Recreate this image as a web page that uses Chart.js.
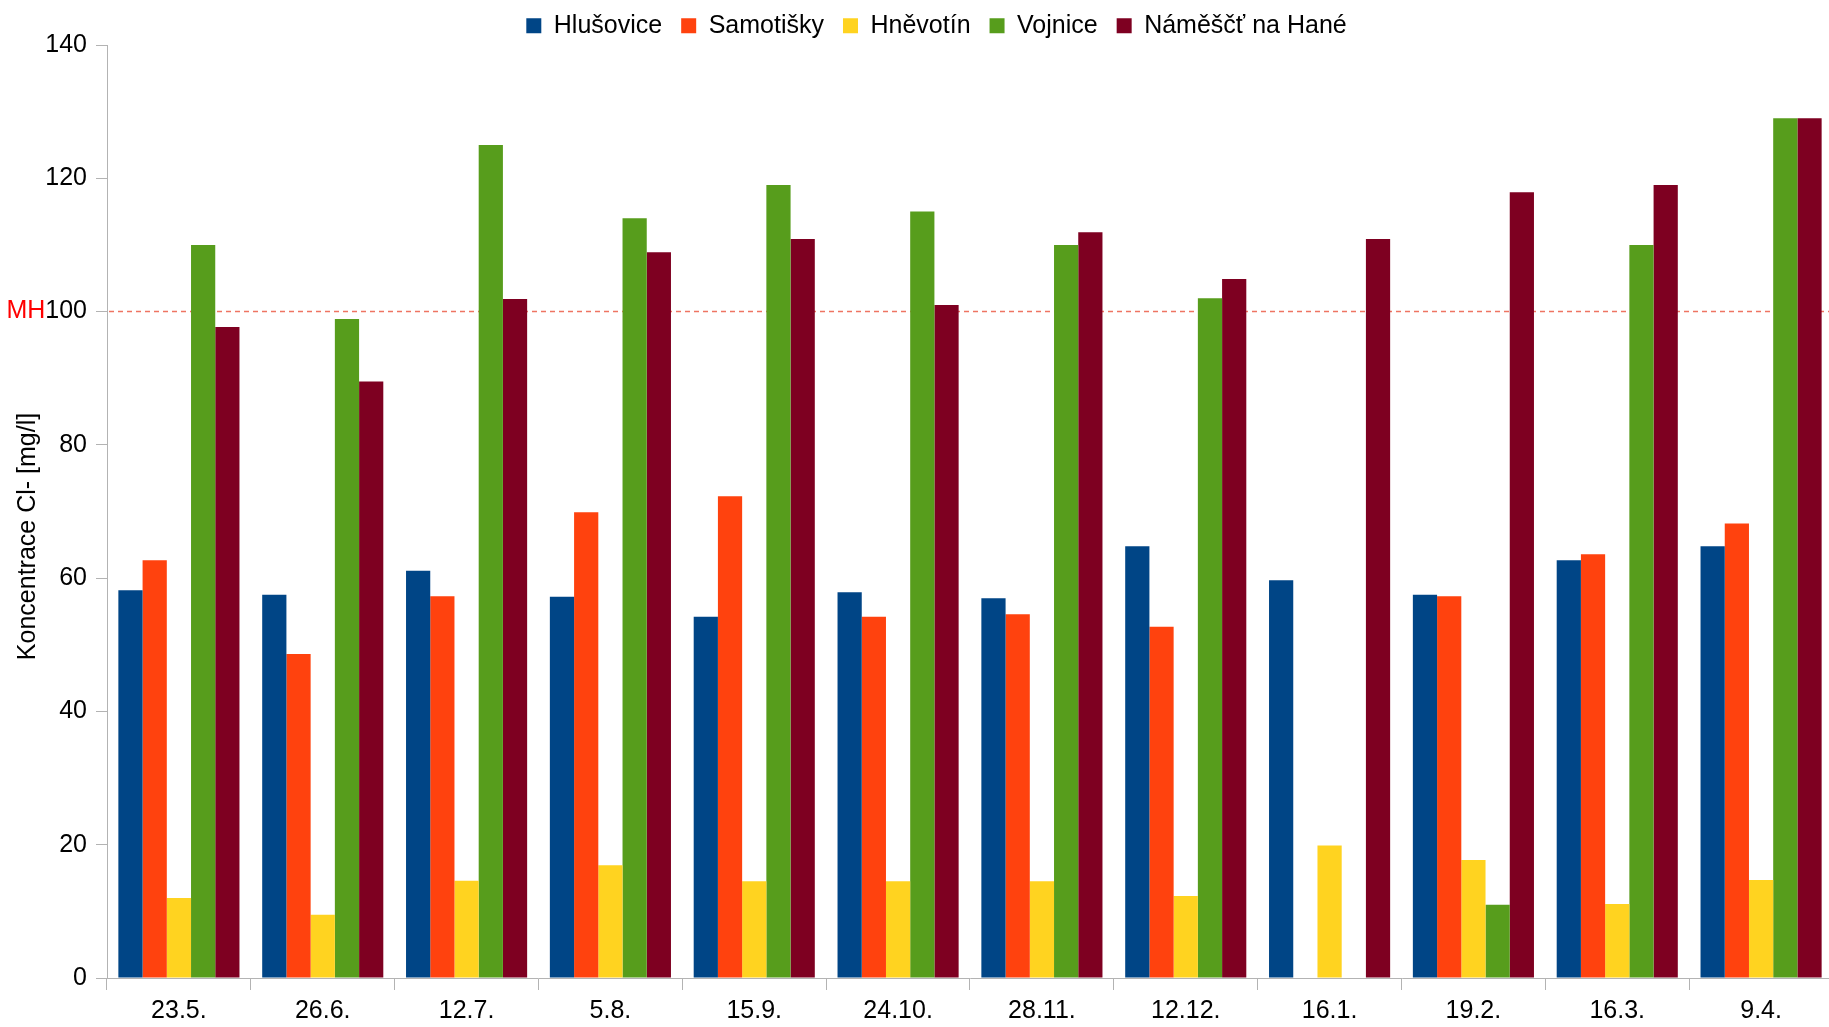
<!DOCTYPE html>
<html>
<head>
<meta charset="utf-8">
<title>Koncentrace Cl-</title>
<script src="https://cdn.jsdelivr.net/npm/chart.js@4.4.1/dist/chart.umd.min.js"></script>
<style>
  html, body { margin: 0; padding: 0; background: #ffffff; overflow: hidden; }
  canvas { display: block; }
</style>
</head>
<body>
<canvas id="chart" width="1840" height="1027"></canvas>
<script>
// Sampling dates (categories)
const dates = ['23.5.', '26.6.', '12.7.', '5.8.', '15.9.', '24.10.', '28.11.', '12.12.', '16.1.', '19.2.', '16.3.', '9.4.'];

// Chloride concentration per sampling site [mg/l]
const hlusovice = [58.2, 57.5, 61.1, 57.2, 54.2, 57.9, 57.0, 64.8, 59.7, 57.5, 62.7, 64.8];
const samotisky = [62.7, 48.6, 57.3, 69.9, 72.3, 54.2, 54.6, 52.7, null, 57.3, 63.6, 68.2];
const hnevotin  = [12.0, 9.5, 14.6, 16.9, 14.5, 14.5, 14.5, 12.3, 19.9, 17.7, 11.1, 14.7];
const vojnice   = [110.0, 98.9, 125.0, 114.0, 119.0, 115.0, 110.0, 102.0, null, 11.0, 110.0, 129.0];
const namest    = [97.7, 89.5, 101.9, 108.9, 110.9, 101.0, 111.9, 104.9, 110.9, 117.9, 119.0, 129.0];

const siteNames = ['Hlušovice', 'Samotišky', 'Hněvotín', 'Vojnice', 'Náměščť na Hané'];

// Value axis
const yMin = 0;
const yMax = 140;
const yStep = 20;

// Limit value (MH) and axis title
const limitValue = 100;
const limitLabel = 'MH';
const yTitle = 'Koncentrace Cl- [mg/l]';

const FONT_FAMILY = "'Liberation Sans', Arial, Helvetica, sans-serif";
const FONT_SIZE = 25;
const AXIS_GREY = '#b3b3b3';

Chart.defaults.font.family = FONT_FAMILY;
Chart.defaults.font.size = FONT_SIZE;
Chart.defaults.color = '#000000';

// Target plot rectangle on the canvas
const plotBox = { left: 107, top: 45, right: 1833, bottom: 978 };
const legendCenterY = 25.7;
const legendShiftX = 20;
const titleCenter = { x: 28.5, y: 536.5 };

const colours = ['#004586', '#ff420e', '#ffd320', '#579d1c', '#7e0021'];
const seriesValues = [hlusovice, samotisky, hnevotin, vojnice, namest];

const datasets = siteNames.map((name, i) => ({
  label: name,
  data: seriesValues[i],
  backgroundColor: colours[i],
  borderWidth: 0,
  categoryPercentage: 0.842,
  barPercentage: 1.0
}));

// Dashed limit line behind the bars, the red "MH" tag and the rotated axis title
const extrasPlugin = {
  id: 'extras',
  afterLayout(chart) {
    const lg = chart.legend;
    if (!lg) return;
    const pad = lg.options.labels.padding;
    const h = lg.height;
    lg.top = legendCenterY - pad - FONT_SIZE / 2;
    lg.bottom = lg.top + h;
    lg.left += legendShiftX;
    lg.right += legendShiftX;
  },
  beforeDatasetsDraw(chart) {
    const { ctx, chartArea } = chart;
    const y = chart.scales.y.getPixelForValue(limitValue);
    ctx.save();
    ctx.strokeStyle = '#ee7462';
    ctx.lineWidth = 1.6;
    ctx.setLineDash([5, 4]);
    ctx.beginPath();
    ctx.moveTo(chartArea.left + 2, y);
    ctx.lineTo(chartArea.right, y);
    ctx.stroke();
    ctx.restore();
  },
  afterDraw(chart) {
    const { ctx } = chart;
    const ys = chart.scales.y;
    const y = ys.getPixelForValue(limitValue);
    ctx.save();
    ctx.font = FONT_SIZE + 'px ' + FONT_FAMILY;
    const numW = ctx.measureText(String(limitValue)).width;
    const labelRight = ys.right - ys.options.grid.tickLength - ys.options.ticks.padding;
    ctx.fillStyle = '#ff0000';
    ctx.textAlign = 'right';
    ctx.textBaseline = 'middle';
    ctx.fillText(limitLabel, labelRight - numW, y);

    ctx.fillStyle = '#000000';
    ctx.translate(titleCenter.x, titleCenter.y);
    ctx.rotate(-Math.PI / 2);
    ctx.textAlign = 'center';
    ctx.fillText(yTitle, 0, 0);
    ctx.restore();
  }
};

const chart = new Chart(document.getElementById('chart'), {
  type: 'bar',
  data: { labels: dates, datasets },
  options: {
    responsive: false,
    animation: false,
    devicePixelRatio: 1,
    layout: { padding: { left: 0, top: 0, right: 1840 - plotBox.right, bottom: 0 } },
    plugins: {
      legend: {
        position: 'top',
        align: 'center',
        labels: {
          boxWidth: 15,
          boxHeight: 15,
          padding: 19,
          color: '#000000',
          font: { size: FONT_SIZE }
        }
      },
      tooltip: { enabled: false }
    },
    scales: {
      x: {
        offset: true,
        grid: {
          display: true,
          offset: true,
          drawOnChartArea: false,
          drawTicks: true,
          tickLength: 12,
          color: AXIS_GREY,
          lineWidth: 1
        },
        border: { display: true, color: AXIS_GREY, width: 1 },
        ticks: { color: '#000000', padding: 6, maxRotation: 0, autoSkip: false, font: { size: FONT_SIZE } },
        afterFit(scale) { scale.height = 1027 - plotBox.bottom; }
      },
      y: {
        min: yMin,
        max: yMax,
        grid: {
          display: true,
          drawOnChartArea: false,
          drawTicks: true,
          tickLength: 11,
          color: AXIS_GREY,
          lineWidth: 1
        },
        border: { display: true, color: AXIS_GREY, width: 1 },
        ticks: { stepSize: yStep, padding: 9, color: '#000000', font: { size: FONT_SIZE } },
        afterFit(scale) { scale.width = plotBox.left; }
      }
    }
  },
  plugins: [extrasPlugin]
});

// Settle the plot rectangle's top edge below the legend
const dTop = plotBox.top - chart.chartArea.top;
if (Math.abs(dTop) > 0.25) {
  chart.options.layout.padding.top += dTop;
  chart.update('none');
}
</script>
</body>
</html>
